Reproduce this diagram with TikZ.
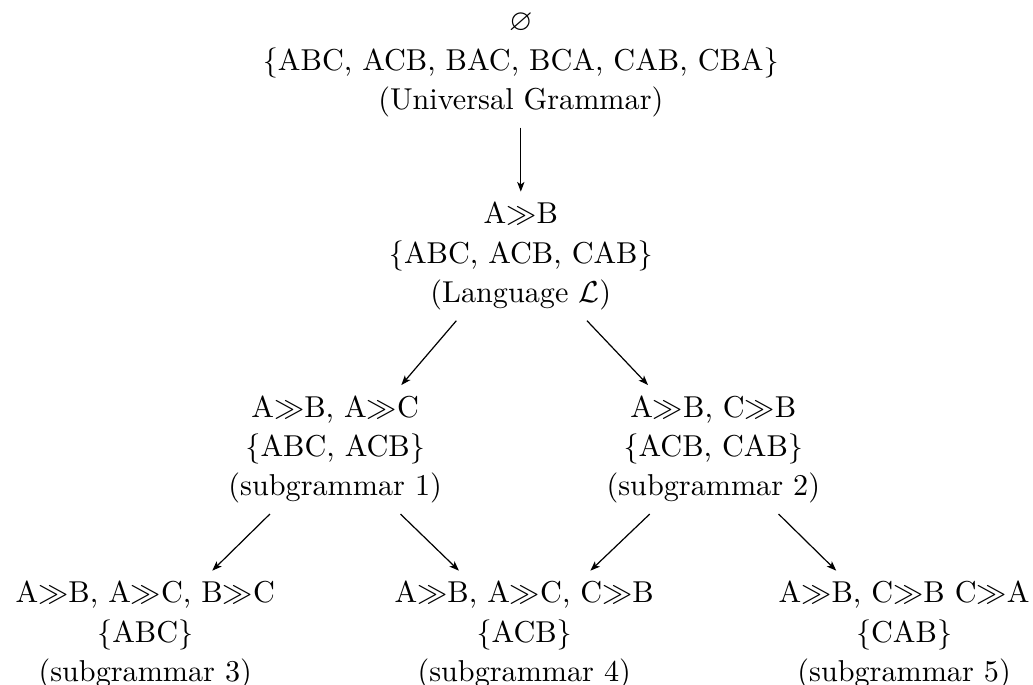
\documentclass[tikz,border=0pt]{standalone}
\usepackage{amsmath}
\usepackage{amssymb}
\usetikzlibrary{arrows.meta}

\tikzset{
  gram/.style={align=center, anchor=north, font=\fontsize{10}{13}\selectfont},
  link/.style={-{Stealth[length=3.2pt,width=2.4pt,inset=0.8pt]}}
}

\begin{document}
\begin{tikzpicture}
  \useasboundingbox (0,0) rectangle (12.02,-7.96);
  % grammars, top to bottom
  \node[gram] (ug)   at (6.06,-0.03)  {$\varnothing$\\ \{ABC, ACB, BAC, BCA, CAB, CBA\}\\ (Universal Grammar)};
  \node[gram] (lang) at (6.06,-2.23)  {A$\gg$B\\ \{ABC, ACB, CAB\}\\ (Language $\mathcal{L}$)};
  \node[gram] (sub1) at (3.90,-4.48)  {A$\gg$B, A$\gg$C\\ \{ABC, ACB\}\\ (subgrammar 1)};
  \node[gram] (sub2) at (8.30,-4.48)  {A$\gg$B, C$\gg$B\\ \{ACB, CAB\}\\ (subgrammar 2)};
  \node[gram] (sub3) at (1.69,-6.64)  {A$\gg$B, A$\gg$C, B$\gg$C\\ \{ABC\}\\ (subgrammar 3)};
  \node[gram] (sub4) at (6.10,-6.64)  {A$\gg$B, A$\gg$C, C$\gg$B\\ \{ACB\}\\ (subgrammar 4)};
  \node[gram] (sub5) at (10.52,-6.64) {A$\gg$B, C$\gg$B C$\gg$A\\ \{CAB\}\\ (subgrammar 5)};
  % arrows
  \draw[link] (ug) -- (lang);
  \draw[link] ([xshift=-0.75cm]lang.south) -- ([xshift=0.77cm]sub1.north);
  \draw[link] ([xshift=0.77cm]lang.south) -- ([xshift=-0.76cm]sub2.north);
  \draw[link] ([xshift=-0.76cm]sub1.south) -- ([xshift=0.78cm]sub3.north);
  \draw[link] ([xshift=0.76cm]sub1.south) -- ([xshift=-0.76cm]sub4.north);
  \draw[link] ([xshift=-0.74cm]sub2.south) -- ([xshift=0.77cm]sub4.north);
  \draw[link] ([xshift=0.76cm]sub2.south) -- ([xshift=-0.79cm]sub5.north);
\end{tikzpicture}
\end{document}
